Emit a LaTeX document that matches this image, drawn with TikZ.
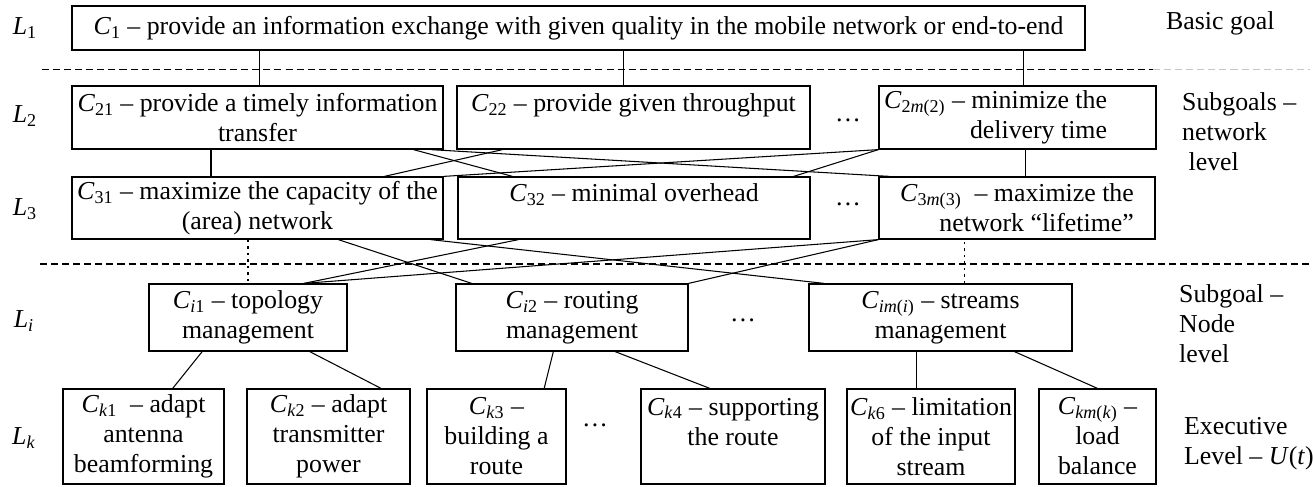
\documentclass[tikz,border=0pt]{standalone}
\usepackage{fontspec}
\setmainfont{Liberation Serif}
\usetikzlibrary{calc}
\newcommand{\goalC}[1]{\textit{C}\textsubscript{#1}}
\newcommand{\levelL}[1]{\textit{L}\textsubscript{#1}}
\tikzset{
  goal/.style={draw, line width=0.7pt, inner sep=0pt, align=center},
  link/.style={line width=0.6pt},
  weaklink/.style={line width=0.6pt, dash pattern=on 1.5pt off 2.2pt},
  border/.style={line width=0.6pt, dash pattern=on 4pt off 2.3pt},
  levelnote/.style={anchor=west, align=left},
}

\begin{document}
\begin{tikzpicture}[x=0.02cm, y=-0.02cm, font=\fontsize{14.7}{17.1}\selectfont]
    \useasboundingbox (0,0) rectangle (1313,487);
    % borders between the levels
    \draw [border] (42,69.5) -- (1153,69.5);
    \draw [border, gray!45] (1153,69.5) -- (1310,69.5);
    \draw [border] (40,264) -- (1310,264);

    % level names
    \node (l1) at (25,28) {\levelL{1}};
    \node (l2) at (25,116) {\levelL{2}};
    \node (l3) at (25,209) {\levelL{3}};
    \node (li) at (24,321) {\levelL{\textit{i}}};
    \node (lk) at (24,438) {\levelL{\textit{k}}};

    % goals
    \node [goal, minimum width=20.26cm, minimum height=0.88cm] (c1) at (578.5,28) {\goalC{1} – provide an information exchange with given quality in the mobile network or end-to-end};

    \node [goal, minimum width=7.42cm, minimum height=1.26cm] (c21) at (257.5,117.5) {\goalC{21} – provide a timely information\\transfer};
    \node [goal, minimum width=7.06cm, minimum height=1.26cm] (c22) at (633.5,117.5) {\goalC{22} – provide given throughput\\\mbox{}};
    \node [goal, align=right, minimum width=5.54cm, minimum height=1.26cm] (c2m) at (1017.5,117.5) {\goalC{2\textit{m}(2)} – minimize the\hspace*{1.7em}\\delivery time\hspace*{1.7em}};

    \node [goal, minimum width=7.42cm, minimum height=1.24cm] (c31) at (257.5,208) {\goalC{31} – maximize the capacity of the\\(area) network};
    \node [goal, minimum width=7.04cm, minimum height=1.24cm] (c32) at (634,208) {\goalC{32} – minimal overhead\\\mbox{}};
    \node [goal, align=right, minimum width=5.52cm, minimum height=1.24cm] (c3m) at (1017,208) {\goalC{3\textit{m}(3)}\ \ – maximize the\\network “lifetime”};

    \node [goal, minimum width=3.96cm, minimum height=1.34cm] (ci1) at (248,317.5) {\goalC{\textit{i}1} – topology\\management};
    \node [goal, minimum width=4.64cm, minimum height=1.34cm] (ci2) at (572,317.5) {\goalC{\textit{i}2} – routing\\management};
    \node [goal, minimum width=5.26cm, minimum height=1.34cm] (cim) at (940.5,317.5) {\goalC{\textit{im}(\textit{i})} – streams\\management};

    \node [goal, minimum width=3.22cm, minimum height=1.9cm] (ck1) at (143.5,436.5) {\goalC{\textit{k}1}\ \ – adapt\\antenna\\beamforming};
    \node [goal, minimum width=3.26cm, minimum height=1.9cm] (ck2) at (328.5,436.5) {\goalC{\textit{k}2} – adapt\\transmitter\\power};
    \node [goal, minimum width=2.78cm, minimum height=1.9cm] (ck3) at (496.5,436.5) {\goalC{\textit{k}3} –\\building a\\route};
    \node [goal, minimum width=3.68cm, minimum height=1.9cm] (ck4) at (733,436.5) {\goalC{\textit{k}4} – supporting\\the route\\\mbox{}};
    \node [goal, minimum width=3.36cm, minimum height=1.9cm] (ck6) at (931,436.5) {\goalC{\textit{k}6} – limitation\\of the input\\stream};
    \node [goal, minimum width=2.34cm, minimum height=1.9cm] (ckm) at (1097.5,436.5) {\goalC{\textit{km}(\textit{k})} –\\load\\balance};

    % gaps
    \node (dots2) at (848,120) {…};
    \node (dots3) at (848,204) {…};
    \node (dotsi) at (743,320) {…};
    \node (dotsk) at (595,425) {…};

    % level notes
    \node [levelnote] (basic) at (1160,23) {Basic goal};
    \node [levelnote] (netlevel) at (1176,132) {Subgoals –\\network\\\hspace*{0.25em}level};
    \node [levelnote] (nodelevel) at (1173,324) {Subgoal –\\Node\\level};
    \node [levelnote] (execlevel) at (1178,444) {Executive\\Level – \textit{U}(\textit{t})};

    % L1 - L2
    \path ($(c21.north west)!0.505!(c21.north east)$) coordinate (c21top)
          ($(c22.north west)!0.473!(c22.north east)$) coordinate (c22top)
          ($(c2m.north west)!0.52!(c2m.north east)$) coordinate (c2mtop);
    \draw [link] (c1.south -| c21top) -- (c21top);
    \draw [link] (c1.south -| c22top) -- (c22top);
    \draw [link] (c1.south -| c2mtop) -- (c2mtop);

    % L2 - L3
    \draw [link] ($(c21.south west)!0.375!(c21.south east)$) -- ($(c31.north west)!0.375!(c31.north east)$);
    \draw [link] ($(c21.south west)!0.919!(c21.south east)$) -- ($(c32.north west)!0.156!(c32.north east)$);
    \draw [link] ($(c21.south west)!0.965!(c21.south east)$) -- ($(c3m.north west)!0.04!(c3m.north east)$);
    \draw [link] ($(c22.south west)!0.13!(c22.south east)$) -- ($(c31.north west)!0.841!(c31.north east)$);
    \draw [link] (c2m.south west) -- (c31.north east);
    \draw [link] (c2m.south west) -- ($(c32.north west)!0.952!(c32.north east)$);
    \draw [link] ($(c2m.south west)!0.53!(c2m.south east)$) coordinate (c2mlow) -- (c2mlow |- c3m.north);

    % L3 - Li
    \draw [weaklink] (ci1.north |- c31.south) -- (ci1.north);
    \draw [link] ($(c31.south west)!0.717!(c31.south east)$) -- ($(ci2.north west)!0.07!(ci2.north east)$);
    \draw [link] ($(c31.south west)!0.965!(c31.south east)$) -- ($(cim.north west)!0.06!(cim.north east)$);
    \draw [link] ($(c32.south west)!0.173!(c32.south east)$) -- ($(ci1.north west)!0.78!(ci1.north east)$);
    \draw [link] (c3m.south west) -- ($(ci1.north west)!0.78!(ci1.north east)$);
    \draw [link] (c3m.south west) -- (ci2.north east);
    \draw [weaklink] ($(cim.north west)!0.59!(cim.north east)$) coordinate (cimtop) -- (cimtop |- c3m.south);

    % Li - Lk
    \draw [link] ($(ci1.south west)!0.27!(ci1.south east)$) -- ($(ck1.north west)!0.68!(ck1.north east)$);
    \draw [link] ($(ci1.south west)!0.81!(ci1.south east)$) -- ($(ck2.north west)!0.82!(ck2.north east)$);
    \draw [link] ($(ci2.south west)!0.42!(ci2.south east)$) -- ($(ck3.north west)!0.84!(ck3.north east)$);
    \draw [link] ($(ci2.south west)!0.685!(ci2.south east)$) -- ($(ck4.north west)!0.375!(ck4.north east)$);
    \draw [link] ($(cim.south west)!0.41!(cim.south east)$) coordinate (cimlow) -- (cimlow |- ck6.north);
    \draw [link] ($(cim.south west)!0.78!(cim.south east)$) -- (ckm.north);
\end{tikzpicture}
\end{document}
